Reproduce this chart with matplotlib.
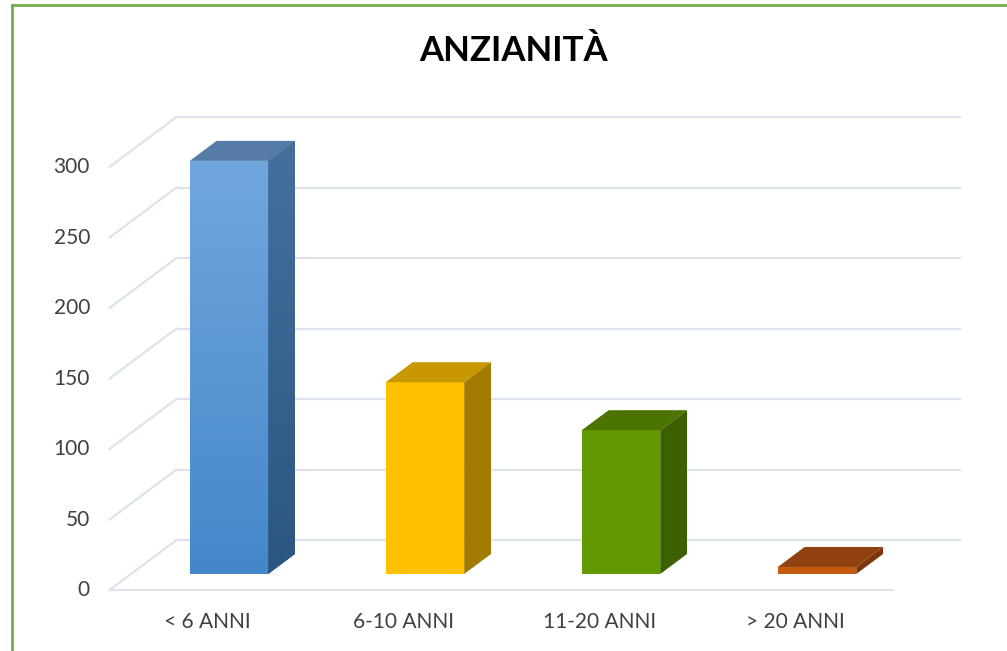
import numpy as np
import matplotlib
matplotlib.use("Agg")
import matplotlib.pyplot as plt
from matplotlib.patches import Polygon
from matplotlib.lines import Line2D

# --- data ---
categories = ["< 6 ANNI", "6-10 ANNI", "11-20 ANNI", "> 20 ANNI"]
values = [293, 136, 102, 5]
yticks = [0, 50, 100, 150, 200, 250, 300]
title = "ANZIANITÀ"

front_colors = ["#5b9bd5", "#ffc000", "#639a00", "#c55a11"]
top_colors = ["#557ca7", "#c99800", "#4b7300", "#914010"]
side_colors = ["#365f8c", "#a27b00", "#3d6100", "#7d360c"]

plt.rcParams["font.family"] = ["Lato", "DejaVu Sans"]

fig = plt.figure(figsize=(10.07, 6.51), dpi=100)
ax = fig.add_axes([0, 0, 1, 1])
ax.set_xlim(-1.168, 3.969)
ax.set_ylim(-54.6, 407.1)
ax.axis("off")

# oblique depth step of one bar (data units)
ddx, ddy = 0.1367, 14.18
front_d, back_d = -0.8, 1.7
x_lo, x_hi = -0.5, 3.5
grid_c = "#dde3ec"

# --- walls / grid ---
for v in yticks:
    ax.plot([x_lo + back_d * ddx, x_hi + back_d * ddx],
            [v + back_d * ddy, v + back_d * ddy],
            color=grid_c, lw=1.6, zorder=1, solid_capstyle="butt")
    ax.plot([x_lo + front_d * ddx, x_lo + back_d * ddx],
            [v + front_d * ddy, v + back_d * ddy],
            color=grid_c, lw=1.6, zorder=1)
    ax.text(x_lo + front_d * ddx - 0.1, v + front_d * ddy, str(v),
            ha="right", va="center", fontsize=15, color="#404040")

ax.plot([x_lo + front_d * ddx, x_hi + front_d * ddx],
        [front_d * ddy, front_d * ddy],
        color=grid_c, lw=1.6, zorder=1, solid_capstyle="butt")

# --- bars ---
w = 0.4
xs = np.arange(len(categories))
bars = ax.bar(xs, values, width=w, color=front_colors, zorder=3, linewidth=0)

grad = np.linspace(0, 1, 256).reshape(-1, 1)
for i, (x, v) in enumerate(zip(xs, values)):
    l, r = x - w / 2, x + w / 2
    top = Polygon([(l, v), (r, v), (r + ddx, v + ddy), (l + ddx, v + ddy)],
                  closed=True, facecolor=top_colors[i], edgecolor="none", zorder=3)
    side = Polygon([(r, 0), (r + ddx, ddy), (r + ddx, v + ddy), (r, v)],
                   closed=True, facecolor=side_colors[i], edgecolor="none", zorder=3)
    ax.add_patch(top)
    ax.add_patch(side)
    ax.text(x + front_d * ddx, -34, categories[i], ha="center", va="center",
            fontsize=15, color="#404040")

# gradient on the blue bar
cmap_front = matplotlib.colors.LinearSegmentedColormap.from_list("f", ["#4487c9", "#71a7df"])
im = ax.imshow(grad, extent=(xs[0] - w / 2, xs[0] + w / 2, 0, values[0]),
               origin="lower", cmap=cmap_front, aspect="auto", zorder=3.5)
im.set_clip_path(bars[0])
cmap_side = matplotlib.colors.LinearSegmentedColormap.from_list("s", ["#2c5681", "#45709e"])
side_poly = Polygon([(xs[0] + w / 2, 0), (xs[0] + w / 2 + ddx, ddy),
                     (xs[0] + w / 2 + ddx, values[0] + ddy), (xs[0] + w / 2, values[0])],
                    closed=True, facecolor="none", edgecolor="none")
ax.add_patch(side_poly)
im2 = ax.imshow(grad, extent=(xs[0] + w / 2, xs[0] + w / 2 + ddx, 0, values[0] + ddy),
                origin="lower", cmap=cmap_side, aspect="auto", zorder=3.5)
im2.set_clip_path(side_poly)
ax.set_xlim(-1.168, 3.969)
ax.set_ylim(-54.6, 407.1)

# --- title ---
fig.text(0.510, 0.921, title, ha="center", va="center", fontsize=25,
         fontweight="bold", color="black")

# --- frame (green border, left and top) ---
fig.add_artist(Line2D([12 / 1007, 12 / 1007], [0, 1 - 5 / 651],
                      transform=fig.transFigure, color="#70ad47", lw=2))
fig.add_artist(Line2D([12 / 1007, 1], [1 - 5 / 651, 1 - 5 / 651],
                      transform=fig.transFigure, color="#70ad47", lw=2))

fig.savefig("out.png", dpi=100)
plt.close(fig)
